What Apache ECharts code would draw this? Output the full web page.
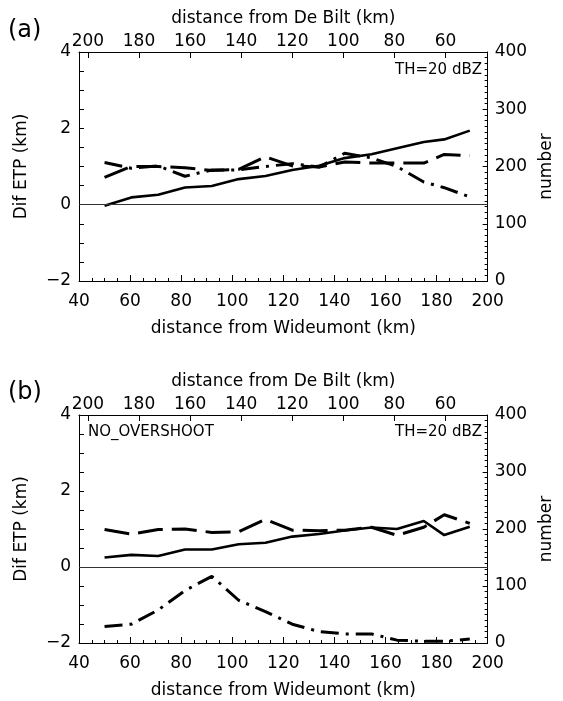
<!DOCTYPE html>
<html><head><meta charset="utf-8">
<script src="https://cdn.jsdelivr.net/npm/echarts@6/dist/echarts.min.js"></script>
<style>html,body{margin:0;padding:0;background:#fff}#c{width:563px;height:701px}</style>
</head><body><div id="c"></div>
<script>
// distance from Wideumont (km) of the bins
const distKm = [50, 60.5, 71, 81.5, 92, 102.5, 113, 123.5, 134, 144, 154.5, 164.5, 175, 183, 193];
// De Bilt tick labels (top axis)
const deBiltTicks = [60, 80, 100, 120, 140, 160, 180, 200];
// panel (a)
const etpA     = [-0.03, 0.19, 0.26, 0.45, 0.49, 0.67, 0.75, 0.91, 1.02, 1.22, 1.32, 1.48, 1.64, 1.71, 1.94];
const numDashA = [181, 200, 200, 198, 193, 195, 217, 201, 199, 208, 206, 206, 206, 221, 219];
const numDotA  = [207, 197, 201, 183, 194, 194, 200, 205, 199, 223, 215, 200, 173, 163, 147];
// panel (b)
const etpB     = [0.25, 0.32, 0.29, 0.46, 0.46, 0.60, 0.64, 0.80, 0.87, 0.96, 1.04, 1.00, 1.21, 0.84, 1.06];
const numDashB = [199, 191, 199, 200, 194, 195, 217, 198, 197, 198, 203, 189, 203, 225, 210];
const numDotB  = [29, 33, 58, 92, 117, 75, 55, 33, 20, 16, 16, 5, 3, 3, 7];

const FONT = 'DejaVu Sans';
const FS = 17;
const black = '#000';
const pairs = (ys) => distKm.map((x, i) => [x, ys[i]]);
const minusFmt = (v) => (v < 0 ? '\u2212' + Math.abs(v) : String(v));

function bottomX(gi) {
  return {
    type: 'value', gridIndex: gi, position: 'bottom', min: 40, max: 200, interval: 20,
    axisLine: { show: true, onZero: false, lineStyle: { color: black, width: 1 } },
    axisTick: { show: true, inside: true, length: 6, lineStyle: { color: black } },
    minorTick: { show: true, splitNumber: 4, length: 3, lineStyle: { color: black } },
    splitLine: { show: false },
    axisLabel: { color: black, fontFamily: FONT, fontSize: FS, margin: 12 },
    name: 'distance from Wideumont (km)', nameLocation: 'middle', nameGap: 39,
    nameTextStyle: { color: black, fontFamily: FONT, fontSize: FS }
  };
}
function topX(gi) {
  return {
    type: 'value', gridIndex: gi, position: 'top', min: 43.5, max: 203.5, inverse: true,
    axisLine: { show: true, onZero: false, lineStyle: { color: black, width: 1 } },
    axisTick: { show: true, inside: true, length: 6, customValues: deBiltTicks, lineStyle: { color: black } },
    splitLine: { show: false },
    axisLabel: { color: black, fontFamily: FONT, fontSize: FS, margin: 2, customValues: deBiltTicks },
    name: 'distance from De Bilt (km)', nameLocation: 'middle', nameGap: 25,
    nameTextStyle: { color: black, fontFamily: FONT, fontSize: FS }
  };
}
function leftY(gi) {
  return {
    type: 'value', gridIndex: gi, position: 'left', min: -2, max: 4, interval: 2,
    axisLine: { show: true, onZero: false, lineStyle: { color: black, width: 1 } },
    axisTick: { show: true, inside: true, length: 5, lineStyle: { color: black } },
    minorTick: { show: true, splitNumber: 4, length: 5, lineStyle: { color: black } },
    splitLine: { show: false },
    axisLabel: { color: black, fontFamily: FONT, fontSize: FS, margin: 8, formatter: minusFmt },
    name: 'Dif ETP (km)', nameLocation: 'middle', nameGap: 49, nameRotate: 90,
    nameTextStyle: { color: black, fontFamily: FONT, fontSize: FS }
  };
}
function rightY(gi) {
  return {
    type: 'value', gridIndex: gi, position: 'right', min: 0, max: 400, interval: 100,
    axisLine: { show: true, onZero: false, lineStyle: { color: black, width: 1 } },
    axisTick: { show: true, inside: true, length: 5, lineStyle: { color: black } },
    minorTick: { show: true, splitNumber: 10, length: 3, lineStyle: { color: black } },
    splitLine: { show: false },
    axisLabel: { color: black, fontFamily: FONT, fontSize: FS, margin: 7 },
    name: 'number', nameLocation: 'middle', nameGap: 46, nameRotate: 90,
    nameTextStyle: { color: black, fontFamily: FONT, fontSize: FS }
  };
}

function seriesFor(gi, etp, dash, dot) {
  const xb = gi * 2, yl = gi * 2, yr = gi * 2 + 1;
  return [
    { type: 'line', xAxisIndex: xb, yAxisIndex: yl, data: pairs(etp), showSymbol: false, silent: true,
      lineStyle: { color: black, width: 2.6, type: 'solid' },
      markLine: { silent: true, symbol: 'none', label: { show: false },
        lineStyle: { color: '#333', width: 1, type: 'solid' }, data: [{ yAxis: 0 }] } },
    { type: 'line', xAxisIndex: xb, yAxisIndex: yr, data: pairs(dash), showSymbol: false, silent: true,
      lineStyle: { color: black, width: 3, type: [25, 9] } },
    { type: 'line', xAxisIndex: xb, yAxisIndex: yr, data: pairs(dot), showSymbol: false, silent: true,
      lineStyle: { color: black, width: 3, type: [18, 7, 3, 7] } }
  ];
}

const chart = echarts.init(document.getElementById('c'), null, { renderer: 'canvas' });
const txt = (x, y, s, size, align) => ({ type: 'text', x, y,
  style: { text: s, fill: black, font: size + 'px "' + FONT + '"', textAlign: align || 'left', textVerticalAlign: 'middle' } });
chart.setOption({
  animation: false,
  backgroundColor: '#fff',
  grid: [
    { left: 79, top: 52, width: 416, height: 229 },
    { left: 79, top: 415, width: 416, height: 228 }
  ],
  xAxis: [bottomX(0), topX(0), bottomX(1), topX(1)],
  yAxis: [leftY(0), rightY(0), leftY(1), rightY(1)],
  series: [...seriesFor(0, etpA, numDashA, numDotA), ...seriesFor(1, etpB, numDashB, numDotB)],
  graphic: [
    txt(8, 31, '(a)', 24),
    txt(8, 393, '(b)', 24),
    txt(482, 70, 'TH=20 dBZ', 15, 'right'),
    txt(482, 432, 'TH=20 dBZ', 15, 'right'),
    txt(88, 432, 'NO_OVERSHOOT', 15, 'left')
  ]
});
</script></body></html>
